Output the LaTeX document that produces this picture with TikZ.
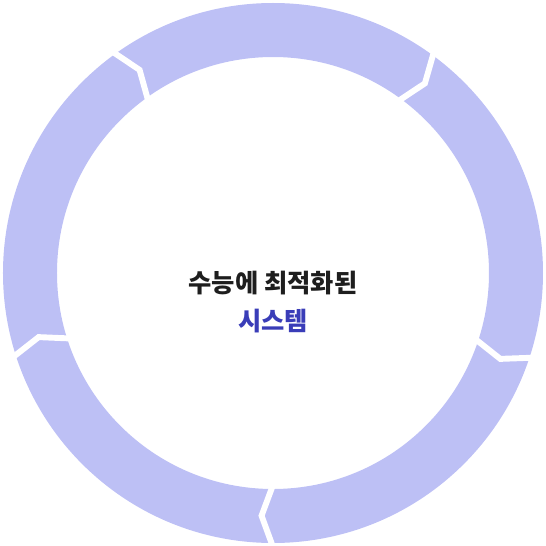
\documentclass[tikz,border=0pt]{standalone}
\usepackage{fontspec}
\newfontfamily\krfont{Noto Sans CJK KR}[BoldFont={Noto Sans CJK KR Black}]
\usepackage{xcolor}
\usepackage{tikz}
\usetikzlibrary{positioning}
\definecolor{ringfill}{HTML}{BDC0F5}
\definecolor{inkdark}{HTML}{1E1E1E}
\definecolor{inkblue}{HTML}{3A3DB8}
\tikzset{
    ringband/.style={fill=ringfill, even odd rule},
    ringgap/.style={draw=white, line width=4.2pt, line join=miter, line cap=rect},
    headline/.style={font=\krfont\bfseries\fontsize{18}{20}\selectfont, text=inkdark, inner sep=0pt},
    headlineblue/.style={headline, text=inkblue},
}

\begin{document}
\begin{tikzpicture}
        \useasboundingbox (-6.825,-6.825) rectangle (6.825,6.825);
        \fill[ringband] (0,0) circle (6.75) (0,0) circle (5.4);
        \foreach \a in {126,54,-18,-90,-162}
            \draw[ringgap] (\a:5.3) -- (\a-2.7:6.075) -- (\a:6.85);
        \node[headline] (title) at (0,-0.25) {수능에 최적화된};
        \node[headlineblue, below=0.34cm of title] (subtitle) {시스템};
    \end{tikzpicture}
\end{document}
